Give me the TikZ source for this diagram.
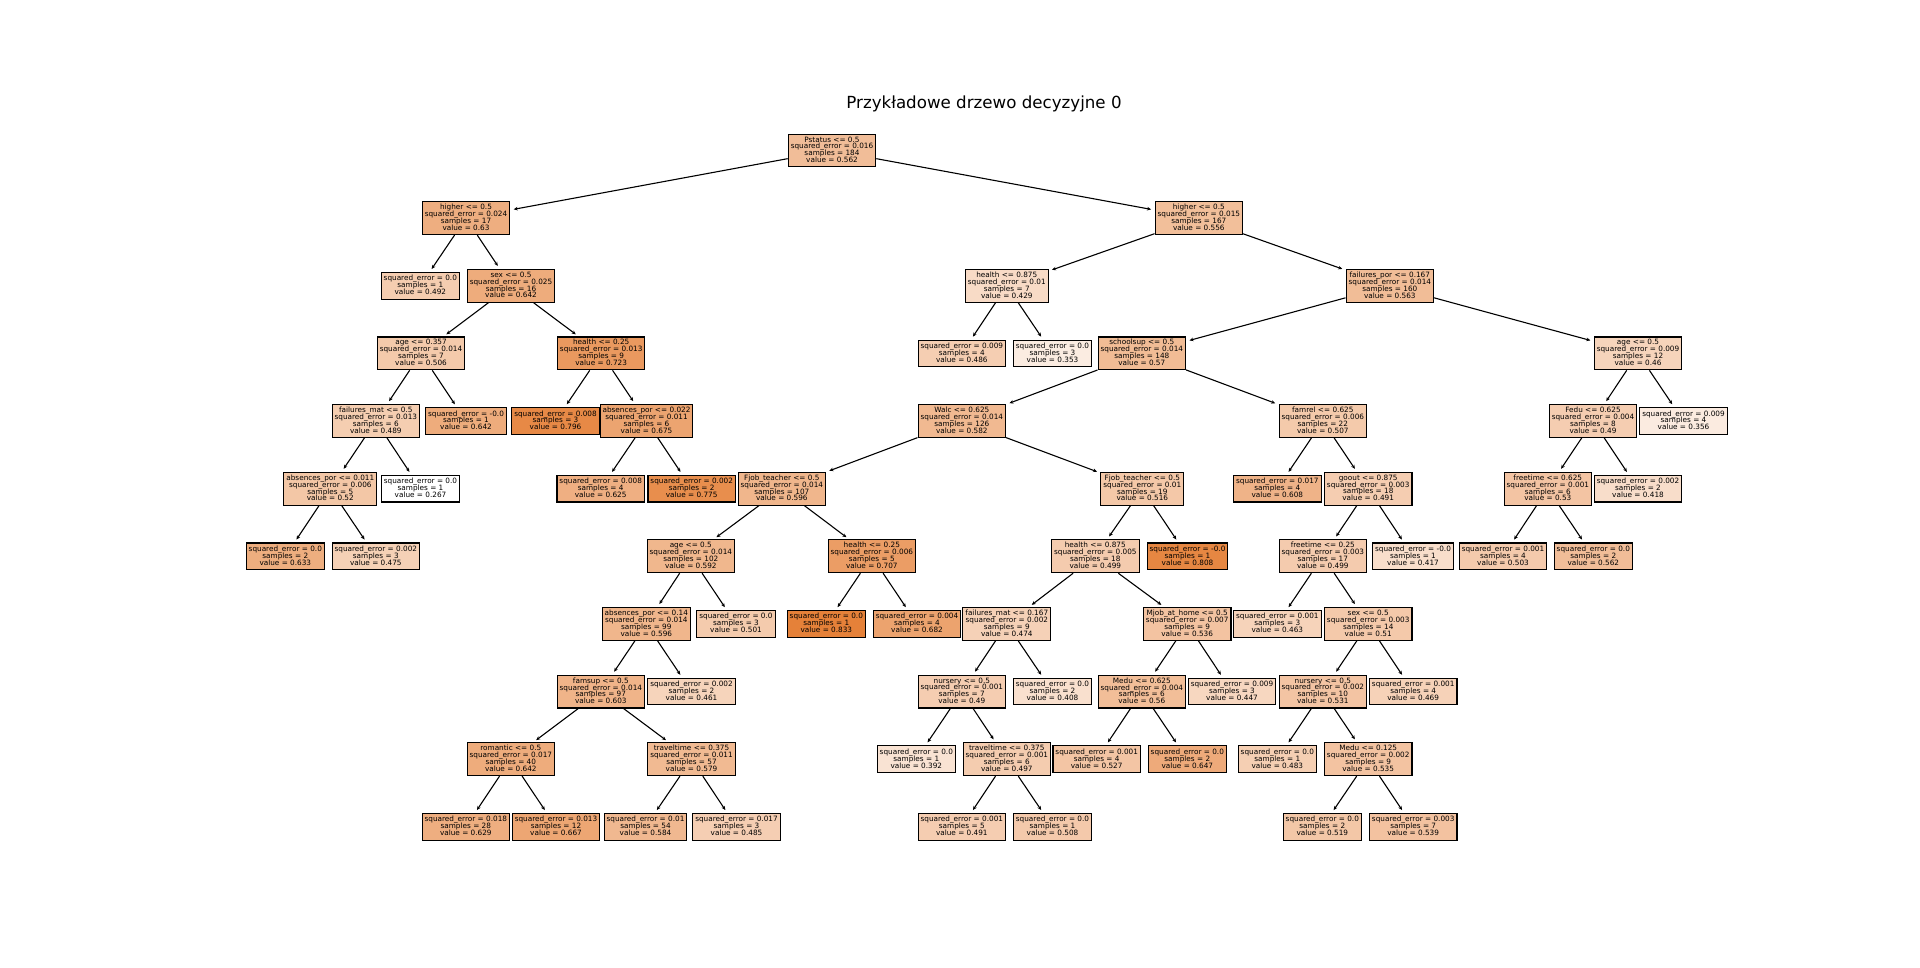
\documentclass[tikz,border=0pt]{standalone}
\usepackage{fontspec}
\setmainfont{DejaVu Sans}
\usetikzlibrary{arrows.meta}
\definecolor{treeorange}{RGB}{229,129,57}

\newcommand\treefont{\fontsize{7.3pt}{6.9pt}\selectfont\lineskiplimit=-20pt\relax}

\tikzset{
  tbox/.style={draw=black, line width=1.1pt, rectangle, align=center,
    inner xsep=2.5pt, inner ysep=1pt, font=\treefont},
  tlink/.style={-{Stealth[length=4pt,width=3.6pt]}, line width=1.1pt, shorten >=3.5pt},
}

% split node: name, x, depth, test, error, samples, value
\newcommand\tsplit[7]{%
  \pgfmathsetmacro\tpct{max(0,min(100,100*(#7-0.267)/0.566))}%
  \pgfmathsetmacro\tyy{150.5+67.63*#3}%
  \node[tbox, minimum height=32.8pt, fill=treeorange!\tpct!white] (#1) at (#2,\tyy)
    {#4\\squared\_error = #5\\samples = #6\\value = #7\rule[-1.7pt]{0pt}{1pt}};}
% leaf node: name, x, depth, error, samples, value
\newcommand\tleaf[6]{%
  \pgfmathsetmacro\tpct{max(0,min(100,100*(#6-0.267)/0.566))}%
  \pgfmathsetmacro\tyy{150.5+67.63*#3}%
  \node[tbox, minimum height=26.6pt, fill=treeorange!\tpct!white] (#1) at (#2,\tyy)
    {squared\_error = #4\\samples = #5\\value = #6\rule[-1.7pt]{0pt}{1pt}};}

\begin{document}
\begin{tikzpicture}[x=1pt,y=-1pt]
\useasboundingbox[fill=white] (0,0) rectangle (1920,967);

\node[font=\fontsize{16.67pt}{20pt}\selectfont] (title) at (984,103.5) {Przykładowe drzewo decyzyjne 0};

% root
\tsplit{n0}{832}{0}{Pstatus <= 0.5}{0.016}{184}{0.562}
% left branch
\tsplit{a}{466}{1}{higher <= 0.5}{0.024}{17}{0.63}
\tleaf{a1}{420.3}{2}{0.0}{1}{0.492}
\tsplit{a2}{511}{2}{sex <= 0.5}{0.025}{16}{0.642}
\tsplit{a21}{421}{3}{age <= 0.357}{0.014}{7}{0.506}
\tsplit{a22}{601.2}{3}{health <= 0.25}{0.013}{9}{0.723}
\tsplit{a211}{375.8}{4}{failures\_mat <= 0.5}{0.013}{6}{0.489}
\tleaf{a212}{466}{4}{-0.0}{1}{0.642}
\tsplit{a2111}{330.3}{5}{absences\_por <= 0.011}{0.006}{5}{0.52}
\tleaf{a2112}{420.5}{5}{0.0}{1}{0.267}
\tleaf{a21111}{285.3}{6}{0.0}{2}{0.633}
\tleaf{a21112}{375.8}{6}{0.002}{3}{0.475}
\tleaf{a221}{555.5}{4}{0.008}{3}{0.796}
\tsplit{a222}{646.5}{4}{absences\_por <= 0.022}{0.011}{6}{0.675}
\tleaf{a2221}{600.7}{5}{0.008}{4}{0.625}
\tleaf{a2222}{691.7}{5}{0.002}{2}{0.775}
% right branch
\tsplit{b}{1198.8}{1}{higher <= 0.5}{0.015}{167}{0.556}
\tsplit{b1}{1006.8}{2}{health <= 0.875}{0.01}{7}{0.429}
\tleaf{b11}{961.8}{3}{0.009}{4}{0.486}
\tleaf{b12}{1052.5}{3}{0.0}{3}{0.353}
\tsplit{b2}{1389.8}{2}{failures\_por <= 0.167}{0.014}{160}{0.563}
\tsplit{c}{1141.8}{3}{schoolsup <= 0.5}{0.014}{148}{0.57}
\tsplit{c1}{961.8}{4}{Walc <= 0.625}{0.014}{126}{0.582}
\tsplit{c11}{781.8}{5}{Fjob\_teacher <= 0.5}{0.014}{107}{0.596}
\tsplit{c111}{690.8}{6}{age <= 0.5}{0.014}{102}{0.592}
\tsplit{c1111}{646.3}{7}{absences\_por <= 0.14}{0.014}{99}{0.596}
\tleaf{c1112}{736}{7}{0.0}{3}{0.501}
\tsplit{c11111}{600.8}{8}{famsup <= 0.5}{0.014}{97}{0.603}
\tleaf{c11112}{691.5}{8}{0.002}{2}{0.461}
\tsplit{d1}{510.8}{9}{romantic <= 0.5}{0.017}{40}{0.642}
\tsplit{d2}{691.5}{9}{traveltime <= 0.375}{0.011}{57}{0.579}
\tleaf{d11}{465.8}{10}{0.018}{28}{0.629}
\tleaf{d12}{556}{10}{0.013}{12}{0.667}
\tleaf{d21}{645.5}{10}{0.01}{54}{0.584}
\tleaf{d22}{736.5}{10}{0.017}{3}{0.485}
\tsplit{c112}{871.8}{6}{health <= 0.25}{0.006}{5}{0.707}
\tleaf{c1121}{826.3}{7}{0.0}{1}{0.833}
\tleaf{c1122}{917}{7}{0.004}{4}{0.682}
\tsplit{c12}{1142.3}{5}{Fjob\_teacher <= 0.5}{0.01}{19}{0.516}
\tsplit{c121}{1095.3}{6}{health <= 0.875}{0.005}{18}{0.499}
\tleaf{c122}{1187.5}{6}{-0.0}{1}{0.808}
\tsplit{e1}{1006.8}{7}{failures\_mat <= 0.167}{0.002}{9}{0.474}
\tsplit{e2}{1187.2}{7}{Mjob\_at\_home <= 0.5}{0.007}{9}{0.536}
\tsplit{e11}{961.8}{8}{nursery <= 0.5}{0.001}{7}{0.49}
\tleaf{e12}{1052.5}{8}{0.0}{2}{0.408}
\tsplit{e21}{1141.8}{8}{Medu <= 0.625}{0.004}{6}{0.56}
\tleaf{e22}{1232}{8}{0.009}{3}{0.447}
\tleaf{e111}{916.3}{9}{0.0}{1}{0.392}
\tsplit{e112}{1006.8}{9}{traveltime <= 0.375}{0.001}{6}{0.497}
\tleaf{e211}{1096.7}{9}{0.001}{4}{0.527}
\tleaf{e212}{1187.3}{9}{0.0}{2}{0.647}
\tleaf{e1121}{961.8}{10}{0.001}{5}{0.491}
\tleaf{e1122}{1052.5}{10}{0.0}{1}{0.508}
\tsplit{f}{1322.8}{4}{famrel <= 0.625}{0.006}{22}{0.507}
\tleaf{f1}{1277.3}{5}{0.017}{4}{0.608}
\tsplit{f2}{1368.2}{5}{goout <= 0.875}{0.003}{18}{0.491}
\tsplit{f21}{1322.8}{6}{freetime <= 0.25}{0.003}{17}{0.499}
\tleaf{f22}{1413}{6}{-0.0}{1}{0.417}
\tleaf{f211}{1277.3}{7}{0.001}{3}{0.463}
\tsplit{f212}{1368.2}{7}{sex <= 0.5}{0.003}{14}{0.51}
\tsplit{f2121}{1322.8}{8}{nursery <= 0.5}{0.002}{10}{0.531}
\tleaf{f2122}{1413.2}{8}{0.001}{4}{0.469}
\tleaf{f21211}{1277.3}{9}{0.0}{1}{0.483}
\tsplit{f21212}{1368.2}{9}{Medu <= 0.125}{0.002}{9}{0.535}
\tleaf{f212121}{1322.3}{10}{0.0}{2}{0.519}
\tleaf{f212122}{1413.2}{10}{0.003}{7}{0.539}
\tsplit{g}{1638}{3}{age <= 0.5}{0.009}{12}{0.46}
\tsplit{g1}{1593}{4}{Fedu <= 0.625}{0.004}{8}{0.49}
\tleaf{g2}{1683.5}{4}{0.009}{4}{0.356}
\tsplit{g11}{1547.8}{5}{freetime <= 0.625}{0.001}{6}{0.53}
\tleaf{g12}{1638}{5}{0.002}{2}{0.418}
\tleaf{g111}{1503}{6}{0.001}{4}{0.503}
\tleaf{g112}{1593.3}{6}{0.0}{2}{0.562}

% connectors, parent to child
\foreach \p/\c in {n0/a, n0/b,
  a/a1, a/a2, a2/a21, a2/a22, a21/a211, a21/a212, a211/a2111, a211/a2112,
  a2111/a21111, a2111/a21112, a22/a221, a22/a222, a222/a2221, a222/a2222,
  b/b1, b/b2, b1/b11, b1/b12, b2/c, b2/g,
  c/c1, c/f, c1/c11, c1/c12, c11/c111, c11/c112, c111/c1111, c111/c1112,
  c1111/c11111, c1111/c11112, c11111/d1, c11111/d2, d1/d11, d1/d12, d2/d21, d2/d22,
  c112/c1121, c112/c1122, c12/c121, c12/c122, c121/e1, c121/e2,
  e1/e11, e1/e12, e2/e21, e2/e22, e11/e111, e11/e112, e21/e211, e21/e212,
  e112/e1121, e112/e1122,
  f/f1, f/f2, f2/f21, f2/f22, f21/f211, f21/f212, f212/f2121, f212/f2122,
  f2121/f21211, f2121/f21212, f21212/f212121, f21212/f212122,
  g/g1, g/g2, g1/g11, g1/g12, g11/g111, g11/g112}
  \draw[tlink] (\p) -- (\c);
\end{tikzpicture}
\end{document}
